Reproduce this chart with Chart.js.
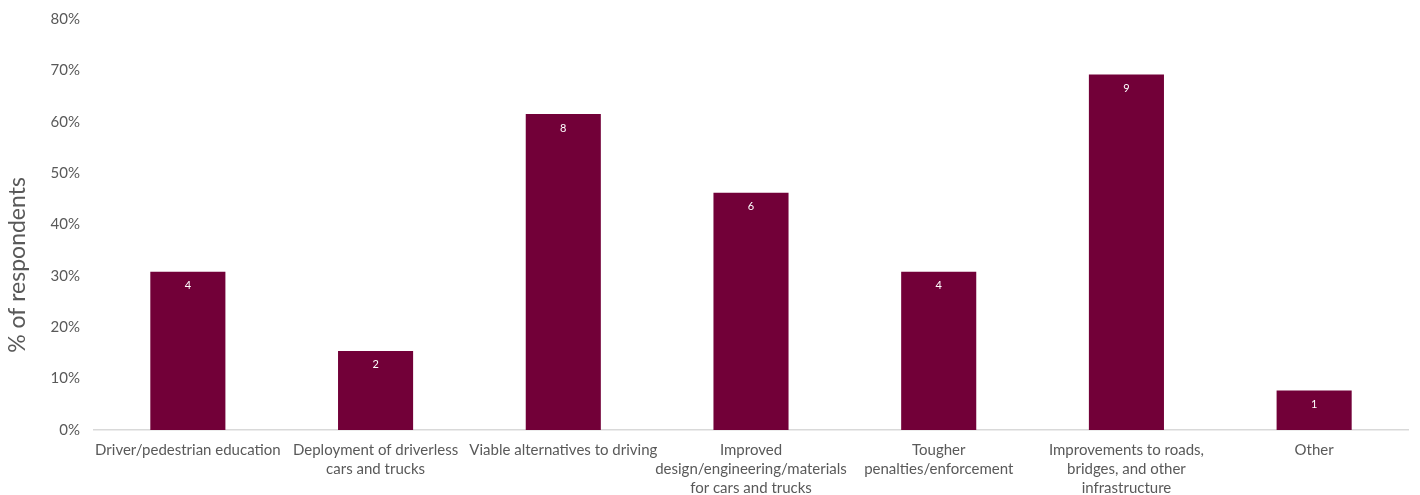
<!DOCTYPE html>
<html>
<head>
<meta charset="utf-8">
<script src="https://cdn.jsdelivr.net/npm/chart.js@4/dist/chart.umd.min.js"></script>
<style>
  html, body { margin: 0; padding: 0; background: #fff; }
  #wrap { width: 1420px; height: 495px; }
</style>
</head>
<body>
<div id="wrap"><canvas id="chart"></canvas></div>
<script>
// categories (multi-line as in the picture)
const categories = [
  ["Driver/pedestrian education"],
  ["Deployment of driverless", "cars and trucks"],
  ["Viable alternatives to driving"],
  ["Improved", "design/engineering/materials", "for cars and trucks"],
  ["Tougher", "penalties/enforcement"],
  ["Improvements to roads,", "bridges, and other", "infrastructure"],
  ["Other"]
];
// share of respondents, %
const percentValues = [30.8, 15.4, 61.5, 46.2, 30.8, 69.2, 7.7];
// number of respondents shown on the bars
const countLabels = [4, 2, 8, 6, 4, 9, 1];
const yTicks = [0, 10, 20, 30, 40, 50, 60, 70, 80];
const yTitle = "% of respondents";

const fontFam = "Lato, 'Open Sans', sans-serif";
const grey = "#595959";

// counts inside the top of each bar + the y title (sits a bit low, like the original)
const extras = {
  id: "extras",
  afterDatasetsDraw(chart) {
    const ctx = chart.ctx;
    const meta = chart.getDatasetMeta(0);
    ctx.save();
    ctx.fillStyle = "#ffffff";
    ctx.font = "11px " + fontFam;
    ctx.textAlign = "center";
    ctx.textBaseline = "middle";
    meta.data.forEach((bar, i) => {
      ctx.fillText(String(countLabels[i]), bar.x, bar.y + 14);
    });
    ctx.restore();

    ctx.save();
    ctx.translate(18, 265);
    ctx.rotate(-Math.PI / 2);
    ctx.fillStyle = grey;
    ctx.font = "23px " + fontFam;
    ctx.textAlign = "center";
    ctx.textBaseline = "middle";
    ctx.fillText(yTitle, 0, 0);
    ctx.restore();
  }
};

new Chart(document.getElementById("chart"), {
  type: "bar",
  data: {
    labels: categories,
    datasets: [{
      data: percentValues,
      backgroundColor: "#720038",
      borderWidth: 0,
      categoryPercentage: 1,
      barPercentage: 0.4
    }]
  },
  options: {
    responsive: true,
    maintainAspectRatio: false,
    animation: false,
    layout: { padding: { top: 0, right: 12, bottom: 0, left: 0 } },
    plugins: {
      legend: { display: false },
      tooltip: { enabled: false }
    },
    scales: {
      x: {
        afterFit(scale) { scale.height = 65; },
        grid: { display: false, drawTicks: false },
        border: { display: true, color: "#d9d9d9", width: 1.5 },
        ticks: {
          color: grey,
          font: { family: fontFam, size: 15, lineHeight: 1.27 },
          padding: 11,
          maxRotation: 0,
          autoSkip: false
        }
      },
      y: {
        min: 0,
        max: 80,
        afterBuildTicks(scale) {
          scale.ticks = yTicks.map(v => ({ value: v }));
        },
        afterFit(scale) {
          scale.width = 94;
          scale.paddingTop = 19;
        },
        grid: { display: false, drawTicks: false },
        border: { display: false },
        ticks: {
          color: grey,
          font: { family: fontFam, size: 15 },
          padding: 14,
          callback: v => v + "%"
        }
      }
    }
  },
  plugins: [extras]
});
</script>
</body>
</html>
